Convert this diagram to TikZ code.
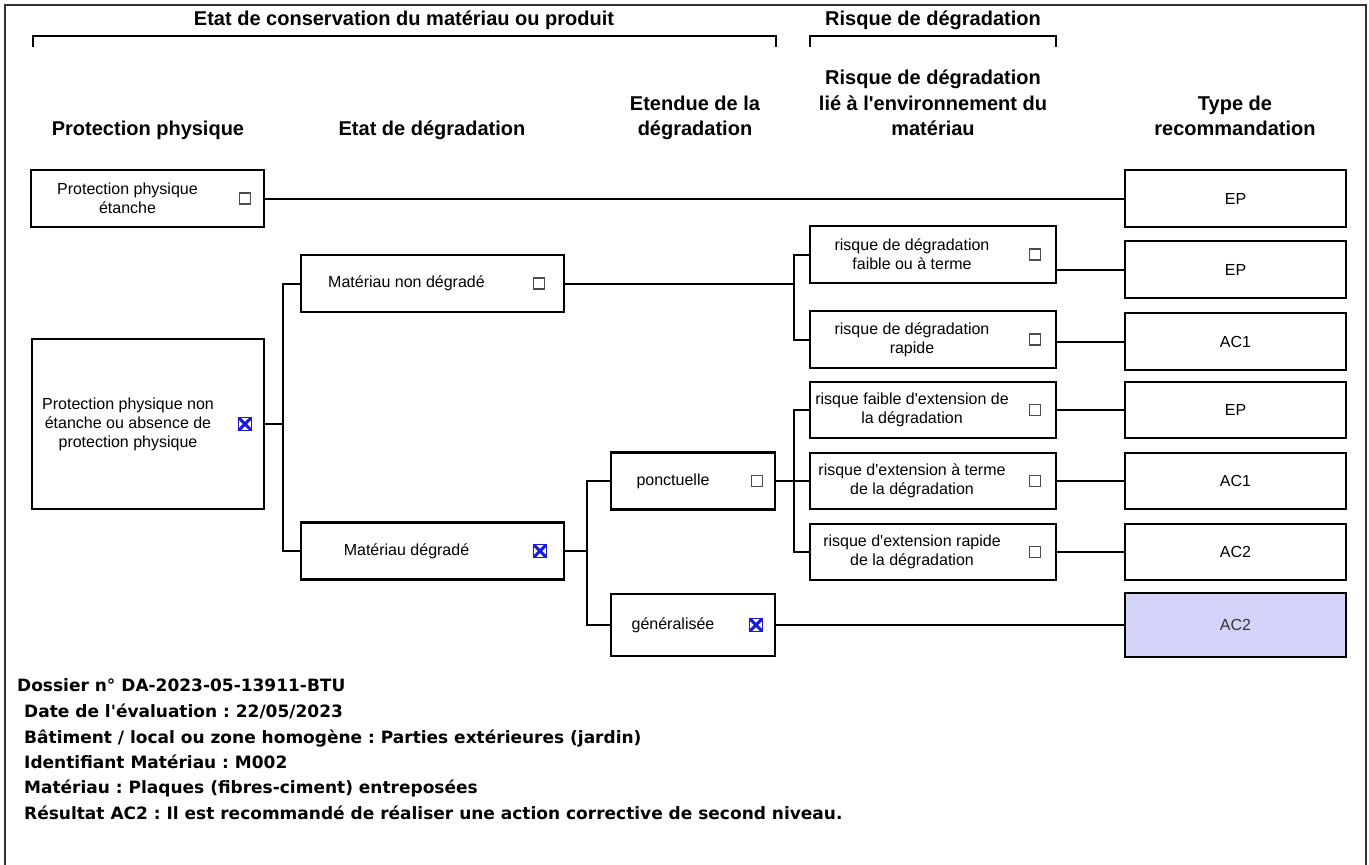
\documentclass[tikz,border=0pt]{standalone}
\usepackage{fontspec}
\setmainfont{Liberation Sans}
\newfontfamily\notefont{DejaVu Sans}
\usetikzlibrary{positioning}
\definecolor{chkblue}{RGB}{25,25,225}
\definecolor{resfill}{RGB}{212,212,250}
\newcommand{\ap}{\textquotesingle}
\frenchspacing

\begin{document}
\begin{tikzpicture}[x=1pt, y=-1pt,
box/.style={draw, line width=2.2pt, inner sep=0pt, minimum height=57pt},
txt/.style={align=center, inner sep=0pt, font=\fontsize{16}{19}\selectfont},
head/.style={align=center, inner sep=0pt, anchor=south, text depth=5pt, font=\bfseries\fontsize{20}{25.5}\selectfont},
grp/.style={inner sep=0pt, font=\bfseries\fontsize{20}{24}\selectfont},
chk/.style={draw=black!70, line width=1.1pt, minimum size=11pt, inner sep=0pt},
chkx/.style={draw=chkblue, line width=1.6pt, minimum size=13pt, inner sep=0pt,
  path picture={\draw[chkblue, line width=3pt] (path picture bounding box.north west) -- (path picture bounding box.south east)
  (path picture bounding box.north east) -- (path picture bounding box.south west);}},
wire/.style={line width=2pt},
brace/.style={line width=2pt},
note/.style={anchor=base west, inner sep=0pt, font=\notefont\bfseries\fontsize{17}{20}\selectfont}
]
\useasboundingbox (0,0) rectangle (1369,865);
\draw[line width=1.6pt, black!80] (5,865) -- (5,5) -- (1366,5) -- (1366,865);

% groups
\node[grp] (g-cons) at (404,20) {Etat de conservation du matériau ou produit};
\node[grp] (g-risq) at (933,20) {Risque de dégradation};
\draw[brace] (33,47) |- (776,36) -- (776,47);
\draw[brace] (810,47) |- (1056,36) -- (1056,47);

% column heads
\node[head] (h-prot) at (148,141) {Protection physique};
\node[head] (h-etat) at (432,141) {Etat de dégradation};
\node[head] (h-eten) at (695,141) {Etendue de la\\dégradation};
\node[head] (h-risq) at (933,141) {Risque de dégradation\\lié à l\ap environnement du\\matériau};
\node[head] (h-type) at (1235,141) {Type de\\recommandation};

% protection
\node[box, minimum width=233pt] (ppe) at (147.5,198.5) {};
\node[txt] at ([xshift=-20pt]ppe.center) {Protection physique\\étanche};
\node[chk] (ppe-c) at ([xshift=-20pt]ppe.east) {};
\node[box, minimum width=232pt, minimum height=170pt] (ppne) at (148,424) {};
\node[txt] at ([xshift=-20pt]ppne.center) {Protection physique non\\étanche ou absence de\\protection physique};
\node[chkx] (ppne-c) at ([xshift=-20pt]ppne.east) {};

% etat
\node[box, minimum width=263pt] (mnd) at (432.5,283.5) {};
\node[txt] at ([xshift=-26pt]mnd.center) {Matériau non dégradé};
\node[chk] (mnd-c) at ([xshift=-26pt]mnd.east) {};
\node[box, minimum width=263pt] (md) at (432.5,551) {};
\node[txt] at ([xshift=-26pt]md.center) {Matériau dégradé};
\node[chkx] (md-c) at ([xshift=-25pt]md.east) {};

% etendue
\node[box, minimum width=164pt] (ponc) at (693,481) {};
\node[txt] at ([xshift=-20pt]ponc.center) {ponctuelle};
\node[chk] (ponc-c) at ([xshift=-19pt]ponc.east) {};
\node[box, minimum width=164pt, minimum height=62pt] (gen) at (693,625) {};
\node[txt] at ([xshift=-20pt]gen.center) {généralisée};
\node[chkx] (gen-c) at ([xshift=-20pt]gen.east) {};

% risque
\node[box, minimum width=246pt] (r1) at (933,254.5) {};
\node[txt] at ([xshift=-21pt]r1.center) {risque de dégradation\\faible ou à terme};
\node[chk] (r1-c) at ([xshift=-22pt]r1.east) {};
\node[box, minimum width=246pt] (r2) at (933,339.5) {};
\node[txt] at ([xshift=-21pt]r2.center) {risque de dégradation\\rapide};
\node[chk] (r2-c) at ([xshift=-22pt]r2.east) {};
\node[box, minimum width=246pt, minimum height=56pt] (r3) at (933,410) {};
\node[txt] at ([xshift=-21pt]r3.center) {risque faible d\ap extension de\\la dégradation};
\node[chk] (r3-c) at ([xshift=-22pt]r3.east) {};
\node[box, minimum width=246pt, minimum height=56pt] (r4) at (933,481) {};
\node[txt] at ([xshift=-21pt]r4.center) {risque d\ap extension à terme\\de la dégradation};
\node[chk] (r4-c) at ([xshift=-22pt]r4.east) {};
\node[box, minimum width=246pt, minimum height=56pt] (r5) at (933,552) {};
\node[txt] at ([xshift=-21pt]r5.center) {risque d\ap extension rapide\\de la dégradation};
\node[chk] (r5-c) at ([xshift=-22pt]r5.east) {};

% recommandation
\node[box, minimum width=221pt] (t1) at (1235.5,198.5) {};
\node[txt] at (t1) {EP};
\node[box, minimum width=221pt] (t2) at (1235.5,269.5) {};
\node[txt] at (t2) {EP};
\node[box, minimum width=221pt] (t3) at (1235.5,341.5) {};
\node[txt] at (t3) {AC1};
\node[box, minimum width=221pt, minimum height=56pt] (t4) at (1235.5,410) {};
\node[txt] at (t4) {EP};
\node[box, minimum width=221pt, minimum height=56pt] (t5) at (1235.5,481) {};
\node[txt] at (t5) {AC1};
\node[box, minimum width=221pt, minimum height=56pt] (t6) at (1235.5,552) {};
\node[txt] at (t6) {AC2};
\node[box, minimum width=221pt, minimum height=64pt, fill=resfill] (t7) at (1235.5,625) {};
\node[txt, text=black!80] at (t7) {AC2};

% junctions
\coordinate (j1) at (283,424);
\coordinate (j2) at (587,551);
\coordinate (j3) at (794,283.5);
\coordinate (j4) at (794,481);

\draw[wire] (ppe.east) -- (t1.west);
\draw[wire] (ppne.east) -- (j1);
\draw[wire] (mnd.west) -| (j1) |- (md.west);
\draw[wire] (md.east) -- (j2);
\draw[wire] (ponc.west) -| (j2) |- (gen.west);
\draw[wire] (mnd.east) -- (j3);
\draw[wire] (r1.west) -| (j3) |- (r2.west);
\draw[wire] (ponc.east) -- (j4);
\draw[wire] (r3.west) -| (j4) |- (r5.west);
\draw[wire] (j4) -- (r4.west);
\draw[wire] (t2.west) -- (t2.west -| r1.east);
\draw[wire] (t3.west) -- (t3.west -| r2.east);
\draw[wire] (r3.east) -- (t4.west);
\draw[wire] (r4.east) -- (t5.west);
\draw[wire] (r5.east) -- (t6.west);
\draw[wire] (gen.east) -- (t7.west);

% dossier
\node[note] (dossier) at (17,691.5) {Dossier n° DA-2023-05-13911-BTU};
\node[note] (date) at (24,717) {Date de l\ap évaluation : 22/05/2023};
\node[note] (bat) at (24,743) {Bâtiment / local ou zone homogène : Parties extérieures (jardin)};
\node[note] (ident) at (24,768) {Identifiant Matériau : M002};
\node[note] (mat) at (24,793) {Matériau : Plaques (fibres-ciment) entreposées};
\node[note] (res) at (24,819) {Résultat AC2 : Il est recommandé de réaliser une action corrective de second niveau.};
\end{tikzpicture}
\end{document}
